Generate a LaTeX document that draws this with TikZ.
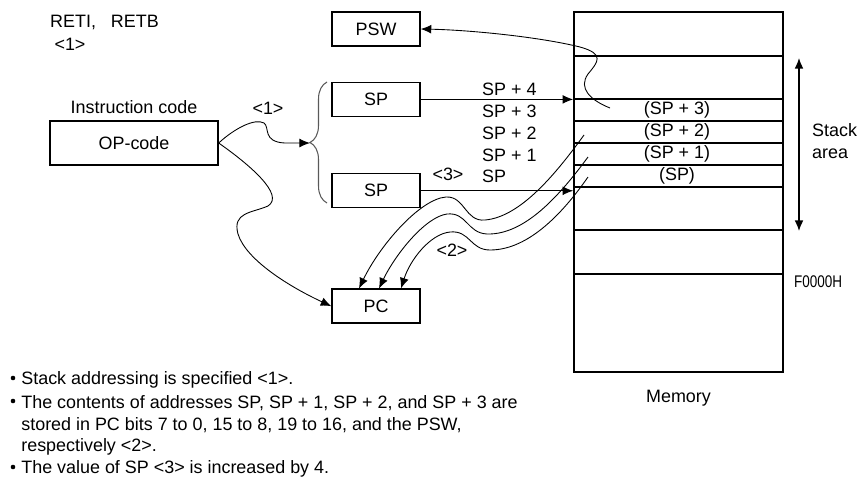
\documentclass[tikz,border=0pt]{standalone}
\usepackage{fontspec}
\setmainfont{Liberation Sans}
\newfontfamily\addrfont[FakeStretch=0.8]{Liberation Sans}
\usetikzlibrary{arrows.meta, positioning, calc, decorations.pathreplacing}

\begin{document}
\begin{tikzpicture}[x=0.02cm, y=-0.02cm, >={Latex[length=6pt,width=5pt]},
    font=\fontsize{10.2}{12.5}\selectfont]
        \tikzset{
            reg/.style={draw, line width=0.8pt, minimum width=1.76cm, minimum height=0.68cm, inner sep=0pt},
            flow/.style={->, line width=0.5pt},
            cellline/.style={line width=1pt},
            note/.style={anchor=west, inner sep=0pt},
        }
        \useasboundingbox (0,0) rectangle (861,481);

        % instruction and registers
        \node (reti) [anchor=west] at (44,22) {RETI,\ \ \ RETB};
        \node (mark1) at (70,44) {<1>};
        \node (opcode) [draw, line width=0.8pt, minimum width=3.36cm, minimum height=0.88cm] at (134,143) {OP-code};
        \node (instr) [above=0pt of opcode] {Instruction code};
        \node (psw) [reg] at (376,29) {PSW};
        \node (sptop) [reg, below=0.7cm of psw] {SP};
        \node (spbot) [reg, below=1.12cm of sptop] {SP};
        \node (pc) [reg, below=1.6cm of spbot] {PC};

        % memory
        \node (mem) [draw, cellline, minimum width=4.18cm, minimum height=7.2cm, inner sep=0pt] at (678.5,192) {};
        \foreach \yy in {56,99,121,143,165,187,230,274}
            \draw[cellline] (574,\yy) -- (783,\yy);
        \node (c3) at (677,110) {(SP + 3)};
        \node (c2) at (677,132) {(SP + 2)};
        \node (c1) at (677,154) {(SP + 1)};
        \node (c0) at (677,176) {(SP)};
        \node (memlbl) [below=0.22cm of mem] {Memory};
        \node (f0000) [anchor=west, font=\addrfont\fontsize{9.6}{11}\selectfont] at (788,282) {F0000H};

        % stack area
        \coordinate (stktop) at (799,58);
        \coordinate (stkbot) at (799,231);
        \draw[<->, line width=0.8pt] (stktop) -- (stkbot);
        \node (stklbl) [anchor=west, align=left] at (806,141) {Stack\\area};

        % addresses
        \foreach \k/\yy in {4/89,3/111,2/133,1/155}
            \node (a\k) [anchor=west] at (476,\yy) {SP + \k};
        \node (a0) [anchor=west] at (476,176) {SP};
        \node (mark3) at (448,174) {<3>};
        \node (mark1b) at (268,108) {<1>};
        \node (mark2) at (452,250) {<2>};

        % brace
        \draw[decorate, decoration={brace, amplitude=0.34cm}, gray!70!black, line width=0.6pt] (327,203) -- (327,82);
        \coordinate (brtip) at (310,143);

        % flows
        \draw[flow] (opcode.east) .. controls (235,128) and (255,118) .. (264,123)
            .. controls (270,127) and (262,142) .. (285,143) -- (brtip);
        \draw[flow] (opcode.east) .. controls (250,165) and (285,195) .. (268,206)
            .. controls (252,213) and (232,212) .. (238,234)
            .. controls (246,260) and (290,287) .. (pc.west);
        \draw[flow] (sptop.east) -- (sptop.east -| mem.west);
        \draw[flow] (spbot.east) -- (spbot.east -| mem.west);

        \coordinate (s3) at (610,108);
        \coordinate (s2) at (584,135);
        \coordinate (s1) at (588,157);
        \coordinate (s0) at (588,177);
        \draw[flow] (s3) .. controls (590,100) and (578,88) .. (588,74)
            .. controls (598,62) and (605,54) .. (580,47)
            .. controls (540,37) and (470,30) .. (psw.east);
        \draw[flow] (s2) .. controls (555,175) and (520,217) .. (485,220)
            .. controls (465,222) and (465,196) .. (446,197)
            .. controls (420,199) and (380,245) .. ($(pc.north)+(-17,0)$);
        \draw[flow] (s1) .. controls (560,195) and (525,235) .. (487,234)
            .. controls (467,233) and (467,212) .. (447,214)
            .. controls (425,217) and (395,255) .. ($(pc.north)+(3,0)$);
        \draw[flow] (s0) .. controls (565,210) and (530,250) .. (490,250)
            .. controls (470,250) and (470,230) .. (450,232)
            .. controls (430,234) and (410,260) .. ($(pc.north)+(25,0)$);

        % notes
        \node (b1) [note] at (21,380) {Stack addressing is specified <1>.};
        \node (b2) [note] at (21,403) {The contents of addresses SP, SP + 1, SP + 2, and SP + 3 are};
        \node (b2b) [note] at (21,425) {stored in PC bits 7 to 0, 15 to 8, 19 to 16, and the PSW,};
        \node (b2c) [note] at (21,447) {respectively <2>.};
        \node (b3) [note] at (21,469) {The value of SP <3> is increased by 4.};
        \foreach \n in {b1,b2,b3}
            \fill ($(\n.west)+(-8,-2)$) circle (1.3pt);
\end{tikzpicture}
\end{document}
